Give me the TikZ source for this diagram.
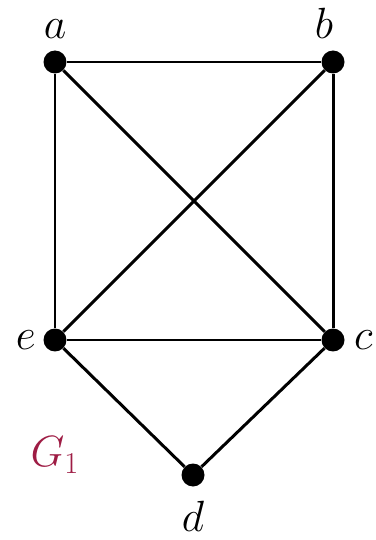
\documentclass[tikz,border=0pt]{standalone}
\usepackage{tikz}
\usetikzlibrary{positioning}
\definecolor{GraphRed}{RGB}{158,28,68}
\tikzset{
  vertex/.style={circle,fill=black,draw=none,minimum size=4.6mm,inner sep=0pt},
  vlabel/.style={inner sep=0pt,font=\fontsize{25}{30}\selectfont},
  gedge/.style={line width=1.7pt,draw=black}
}
\begin{document}
\begin{tikzpicture}[x=0.02cm,y=-0.02cm]
\useasboundingbox (0,0) rectangle (375,540);
% vertices
\node[vertex] (a) at (55,62) {};
\node[vertex] (b) at (333,62) {};
\node[vertex] (e) at (55,340) {};
\node[vertex] (c) at (333,340) {};
\node[vertex] (d) at (193,475) {};
% labels
\node[vlabel, above=2.2mm of a] (la) {$a$};
\node[vlabel, above=2.2mm of b, xshift=-1.8mm] (lb) {$b$};
\node[vlabel, left=1.4mm of e] (le) {$e$};
\node[vlabel, right=1.8mm of c] (lc) {$c$};
\node[vlabel, below=2.8mm of d] (ld) {$d$};
\node[vlabel, text=GraphRed] (gname) at (55,455) {$G_1$};
% edges
\draw[gedge] (a) -- (b);
\draw[gedge] (a) -- (e);
\draw[gedge] (a) -- (c);
\draw[gedge] (b) -- (e);
\draw[gedge] (b) -- (c);
\draw[gedge] (e) -- (c);
\draw[gedge] (e) -- (d);
\draw[gedge] (c) -- (d);
\end{tikzpicture}
\end{document}
